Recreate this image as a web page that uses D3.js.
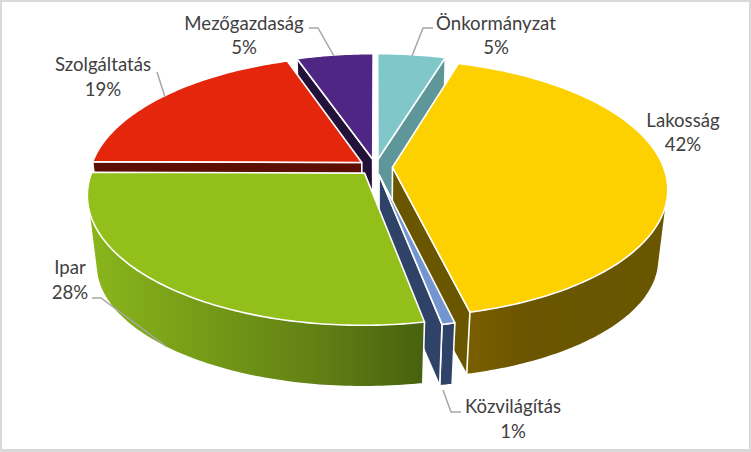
<!DOCTYPE html>
<html><head><meta charset="utf-8">
<script src="https://cdn.jsdelivr.net/npm/d3@7"></script>
<style>html,body{margin:0;padding:0;background:#fff}svg{display:block}text{font-family:Lato,"Open Sans",sans-serif;font-size:18.6px;fill:#404040;text-anchor:middle}</style>
</head><body><svg id="c" width="751" height="452"></svg>
<script>
// data
const categories = ["Önkormányzat","Lakosság","Közvilágítás","Ipar","Szolgáltatás","Mezőgazdaság"];
const shares = [4.7,41.6,0.65,28.15,19.6,5.3];
const percentLabels = ["5%","42%","1%","28%","19%","5%"];
// styles
const topColors = ["#7FC7C8","#FDD000","#7496CE","#92BF1A","#E3260C","#4F2683"];
const wallColors = ["#5F9699","#6B5600","#2F4268","#3F5C0C","#5C0F00","#22123A"];
const rimStops = [
  null,
  ["#7C6000","#6B5500","#6A5600","#6B5600"],
  null,
  ["#8AB61B","#769C17","#628214","#46620F"],
  null,null];
const drawOrder = [0,5,4,1,2,3];
// layout
const W=751,H=452, cx=375.5, cy=167, R=271, explode=17, tilt=0.462, tiltLow=0.125, persp=0.163, depth=74, shrink=0.03;
const labelPos = [[496,30,54],[683,127,151],[513,413,438],[70,274,299],[103,71,96],[244,30,54]];
const leaders = [
 [[433,28],[423,28],[412,56]],
 [],
 [[443,390],[451,412],[461,412]],
 [[92,298],[101,298],[167,347]],
 [[157,72],[165,97]],
 [[309,28],[318,28],[334,56]]
];
const svg=d3.select("#c");
svg.append("rect").attr("width",W).attr("height",H).attr("fill","#D9D9D9");
svg.append("rect").attr("x",2).attr("y",2).attr("width",W-4).attr("height",H-5).attr("fill","#fff");
const defs=svg.append("defs");
const arcs=d3.pie().sort(null).value(d=>d).startAngle(0).endAngle(2*Math.PI)(shares);

function proj(X,Y,Z){
  const s=1/(1+persp*Y/R+shrink*Z/depth);
  const t=tilt*(1-tiltLow*Z/depth);
  return [cx+X*s, cy+(Z-t*Y)*s];
}
const line=d3.line();
function rimPoint(a,mid,z){
  return proj(R*Math.sin(a)+explode*Math.sin(mid), R*Math.cos(a)+explode*Math.cos(mid), z);
}
function apex(mid,z){return proj(explode*Math.sin(mid),explode*Math.cos(mid),z);}
function rim(a0,a1,mid,z){
  const n=Math.max(4,Math.ceil((a1-a0)*60));
  return d3.range(n+1).map(i=>rimPoint(a0+(a1-a0)*i/n,mid,z));
}
const sw=1.6;
drawOrder.forEach(i=>{
  const a=arcs[i], mid=(a.startAngle+a.endAngle)/2;
  const g=svg.append("g").attr("class","slice").attr("data-name",categories[i]);
  const face=(pts,fill)=>g.append("path").attr("d",line(pts)+"Z").attr("fill",fill).attr("stroke","#fff").attr("stroke-width",sw).attr("stroke-linejoin","round");
  // outer wall
  let fill=wallColors[i];
  if(rimStops[i]){
    const id="grad"+i;
    const gr=defs.append("linearGradient").attr("id",id);
    rimStops[i].forEach((c,k)=>gr.append("stop").attr("offset",k/(rimStops[i].length-1)).attr("stop-color",c));
    fill="url(#"+id+")";
  }
  const top=rim(a.startAngle,a.endAngle,mid,0), bot=rim(a.startAngle,a.endAngle,mid,depth);
  face(d3.polygonHull(top.concat(bot)),fill);
  // radial walls: only those that face the viewer
  [[a.startAngle,1],[a.endAngle,-1]].forEach(([e,sign])=>{
    const q=[apex(mid,0),rimPoint(e,mid,0),rimPoint(e,mid,depth),apex(mid,depth)];
    if(d3.polygonArea(q)*sign>0) face(q,wallColors[i]);
  });
  // top
  face([apex(mid,0)].concat(top),topColors[i]);
});
leaders.forEach(l=>{ if(l.length) svg.append("path").attr("d",line(l)).attr("fill","none").attr("stroke","#A6A6A6").attr("stroke-width",1.5);});
categories.forEach((c,i)=>{
  svg.append("text").attr("x",labelPos[i][0]).attr("y",labelPos[i][1]).text(c);
  svg.append("text").attr("x",labelPos[i][0]).attr("y",labelPos[i][2]).text(percentLabels[i]);
});
</script></body></html>
